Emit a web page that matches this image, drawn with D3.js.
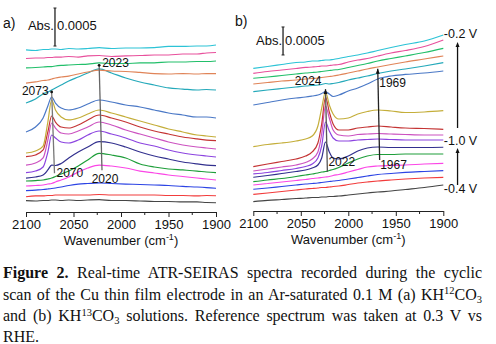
<!DOCTYPE html>
<html>
<head>
<meta charset="utf-8">
<script src="https://cdn.jsdelivr.net/npm/d3@7"></script>
<style>
  body { margin: 0; background: #fff; }
  svg text { font-family: Arial, "Liberation Sans", sans-serif; fill: #111; }
  .caption text { font-family: "Liberation Serif", "DejaVu Serif", serif; }
</style>
</head>
<body>
<svg id="fig" width="496" height="344"></svg>
<script>
// wavenumber grids (cm-1) the traces are sampled on
var wnA = [2100, 2090, 2082, 2077, 2073, 2069, 2063, 2055, 2045, 2035, 2023, 2010, 1995, 1980, 1965, 1950, 1935, 1920, 1910, 1900];
var wnB = [2100, 2085, 2070, 2055, 2045, 2038, 2032, 2028, 2024, 2020, 2016, 2010, 2000, 1990, 1980, 1969, 1955, 1940, 1920, 1900];

// stacked absorbance, units of 1e-4, offsets included, top trace first
var specA = [
  [21.32, 21.25, 21.38, 21.38, 21.45, 21.45, 21.38, 21.51, 21.45, 21.51, 21.64, 21.51, 21.58, 21.58, 21.64, 21.78, 21.78, 21.84, 21.84, 21.97],
  [20.20, 20.26, 20.26, 20.33, 20.33, 20.39, 20.39, 20.46, 20.39, 20.53, 20.59, 20.46, 20.53, 20.59, 20.66, 20.66, 20.79, 20.79, 20.92, 20.99],
  [18.95, 19.01, 19.08, 19.14, 19.14, 19.21, 19.28, 19.34, 19.41, 19.47, 19.61, 19.54, 19.54, 19.61, 19.61, 19.74, 19.74, 19.80, 19.80, 19.87],
  [16.97, 17.11, 17.30, 17.37, 17.50, 17.63, 17.76, 17.89, 18.16, 18.42, 18.68, 18.55, 18.49, 18.36, 18.22, 18.16, 18.22, 18.16, 18.22, 18.22],
  [14.34, 14.87, 15.53, 15.79, 16.05, 16.32, 16.71, 17.24, 17.76, 18.29, 18.82, 18.29, 17.63, 17.11, 16.71, 16.32, 16.18, 16.05, 16.12, 16.05],
  [10.53, 11.18, 12.37, 13.95, 15.13, 14.34, 13.68, 13.42, 13.68, 14.21, 14.74, 14.47, 14.08, 13.82, 13.42, 13.03, 12.76, 12.50, 12.50, 12.37],
  [7.76, 8.03, 8.68, 11.84, 14.74, 13.42, 12.50, 12.11, 12.37, 12.89, 13.42, 13.03, 12.50, 11.97, 11.45, 10.92, 10.53, 10.13, 10.00, 9.87],
  [7.28, 7.50, 8.16, 10.53, 12.63, 11.84, 11.18, 11.05, 11.45, 12.11, 12.76, 12.37, 11.84, 11.18, 10.66, 10.26, 9.87, 9.61, 9.47, 9.38],
  [6.18, 6.45, 7.11, 9.47, 11.71, 11.05, 10.39, 10.26, 10.66, 11.18, 11.84, 11.45, 10.79, 10.26, 9.74, 9.21, 8.82, 8.55, 8.42, 8.29],
  [5.17, 5.39, 5.92, 7.89, 10.13, 9.74, 9.21, 9.08, 9.47, 10.13, 10.66, 10.26, 9.74, 9.08, 8.68, 8.16, 7.76, 7.50, 7.37, 7.24],
  [4.47, 4.61, 4.87, 5.53, 6.18, 6.12, 6.38, 7.11, 7.89, 8.55, 9.25, 9.08, 8.55, 7.89, 7.37, 6.97, 6.58, 6.32, 6.18, 6.09],
  [4.08, 4.14, 4.21, 4.34, 4.47, 4.67, 5.00, 5.39, 6.05, 6.84, 7.72, 7.50, 7.11, 6.32, 5.92, 5.66, 5.53, 5.39, 5.26, 5.17],
  [3.42, 3.49, 3.55, 3.68, 3.75, 3.95, 4.21, 4.61, 5.26, 5.79, 6.18, 6.05, 5.79, 5.39, 5.13, 4.87, 4.67, 4.47, 4.34, 4.21],
  [2.80, 2.89, 2.96, 3.03, 3.09, 3.16, 3.29, 3.49, 3.68, 3.75, 3.82, 3.75, 3.68, 3.62, 3.55, 3.49, 3.36, 3.29, 3.22, 3.12],
  [2.01, 2.11, 2.11, 2.17, 2.17, 2.24, 2.24, 2.24, 2.24, 2.24, 2.30, 2.24, 2.24, 2.24, 2.24, 2.17, 2.17, 2.11, 2.17, 2.14],
  [1.49, 1.45, 1.51, 1.51, 1.58, 1.58, 1.51, 1.58, 1.51, 1.58, 1.64, 1.51, 1.51, 1.45, 1.38, 1.38, 1.32, 1.32, 1.25, 1.22]
];

var specB = [
  [25.48, 25.80, 26.16, 26.52, 26.61, 26.79, 26.79, 26.88, 26.96, 26.96, 27.05, 27.23, 27.59, 27.86, 28.21, 28.66, 29.20, 29.73, 30.36, 31.43],
  [24.59, 24.91, 25.18, 25.45, 25.63, 25.71, 25.80, 25.89, 25.89, 25.98, 26.07, 26.16, 26.61, 26.96, 27.23, 27.68, 28.21, 28.66, 29.38, 30.54],
  [23.70, 23.93, 24.20, 24.46, 24.64, 24.73, 24.82, 24.91, 25.00, 25.09, 25.18, 25.27, 25.63, 25.98, 26.34, 26.79, 27.23, 27.68, 28.30, 29.05],
  [22.68, 22.95, 23.21, 23.39, 23.57, 23.66, 23.75, 23.84, 23.93, 24.02, 24.11, 24.29, 24.64, 25.00, 25.36, 25.71, 26.16, 26.61, 27.14, 27.68],
  [21.30, 21.61, 21.88, 22.14, 22.32, 22.41, 22.50, 22.59, 22.77, 22.68, 22.77, 22.95, 23.39, 23.75, 24.11, 24.55, 25.00, 25.36, 25.89, 26.48],
  [18.93, 19.38, 19.82, 20.18, 20.36, 20.54, 20.71, 20.98, 21.34, 20.89, 20.45, 20.71, 21.43, 21.96, 22.68, 23.57, 24.11, 24.38, 24.64, 25.00],
  [11.48, 11.88, 12.14, 12.50, 12.86, 13.39, 15.18, 18.39, 21.25, 18.93, 17.32, 16.43, 16.61, 17.32, 17.77, 18.04, 17.86, 17.59, 17.68, 17.91],
  [7.91, 8.39, 8.84, 9.29, 9.82, 10.54, 12.14, 15.54, 20.36, 17.68, 15.54, 14.46, 14.46, 14.82, 15.00, 15.18, 15.00, 14.82, 14.73, 14.59],
  [7.14, 7.50, 7.86, 8.21, 8.66, 9.29, 10.54, 13.75, 18.75, 16.61, 14.46, 13.57, 13.39, 13.66, 13.75, 13.84, 13.75, 13.66, 13.57, 13.57],
  [6.61, 6.88, 7.23, 7.59, 7.95, 8.39, 9.46, 11.61, 15.89, 14.29, 13.04, 12.50, 12.50, 12.68, 12.77, 12.86, 12.77, 12.68, 12.68, 12.68],
  [6.02, 6.34, 6.70, 7.05, 7.32, 7.68, 8.21, 9.46, 12.32, 10.54, 9.46, 9.29, 9.82, 10.71, 11.25, 11.43, 11.34, 11.34, 11.34, 11.38],
  [5.23, 5.54, 5.80, 6.16, 6.43, 6.61, 6.79, 6.96, 7.05, 7.23, 7.41, 7.77, 8.57, 9.29, 9.82, 10.09, 10.09, 10.18, 10.18, 10.18],
  [4.64, 4.91, 5.18, 5.45, 5.63, 5.80, 5.89, 5.98, 6.07, 6.16, 6.34, 6.52, 6.96, 7.41, 7.86, 8.04, 8.13, 8.21, 8.39, 8.52],
  [3.88, 4.11, 4.38, 4.64, 4.82, 4.91, 5.00, 5.09, 5.18, 5.27, 5.36, 5.45, 5.71, 5.98, 6.25, 6.52, 6.70, 6.88, 7.05, 7.20],
  [2.98, 3.21, 3.48, 3.75, 3.93, 4.02, 4.11, 4.20, 4.20, 4.29, 4.38, 4.46, 4.73, 5.00, 5.18, 5.36, 5.54, 5.71, 5.89, 6.02],
  [1.66, 1.88, 2.05, 2.23, 2.32, 2.41, 2.41, 2.50, 2.50, 2.59, 2.59, 2.68, 2.86, 3.04, 3.21, 3.39, 3.57, 3.84, 4.20, 4.64]
];

var traceColors = ["#2cc3d6", "#e8509c", "#22bf6a", "#e08458", "#24a9ba", "#4a78c6",
                   "#c4ae3a", "#c43434", "#cc52c0", "#8c44e0", "#32308e", "#1e9e3a",
                   "#fb46e6", "#2c44e4", "#f23c3c", "#454545"];

var xTicks = [2100, 2050, 2000, 1950, 1900];
var minorTicks = [2075, 2025, 1975, 1925];

// peak guide lines: wavenumber at top / bottom and absorbance they span
var guidesA = [
  {wn0: 2073, wn1: 2070, a0: 15.8, a1: 5.1, top: "2073", bottom: "2070"},
  {wn0: 2023, wn1: 2020, a0: 19.3, a1: 5.5, top: "2023", bottom: "2020"}
];
var guidesB = [
  {wn0: 2024, wn1: 2022, a0: 21.8, a1: 7.0, top: "2024", bottom: "2022"},
  {wn0: 1969, wn1: 1967, a0: 25.4, a1: 9.1, top: "1969", bottom: "1967"}
];

var barLength = 5;          // 0.0005 absorbance
var barA = {wn: 2069.5, base: 21.84};
var barB = {wn: 2068.7, base: 27.86};

// potential sweep arrows on panel b
var sweepWn = 1885;
var sweeps = [{from: 14.82, to: 30.18}, {from: 4.64, to: 11.25}];
var potentials = [{label: "-0.2 V", a: 30.9}, {label: "-1.0 V", a: 11.7}, {label: "-0.4 V", a: 3.2}];

var svg = d3.select("#fig");

function drawPanel(opt) {
  var x = d3.scaleLinear().domain([2100, 1900]).range(opt.xr);
  var y = d3.scaleLinear().domain(opt.yd).range(opt.yr);
  var g = svg.append("g");

  var line = d3.line()
    .x(function(d) { return x(d[0]); })
    .y(function(d) { return y(d[1]); })
    .curve(d3.curveMonotoneX);

  // bottom trace drawn first so the upper ones sit on top
  opt.spec.slice().reverse().forEach(function(s, i) {
    var k = opt.spec.length - 1 - i;
    g.append("path")
      .attr("d", line(opt.wn.map(function(w, j) { return [w, s[j]]; })))
      .attr("fill", "none")
      .attr("stroke", traceColors[k])
      .attr("stroke-width", 1.2);
  });

  var axis = g.append("g")
    .attr("transform", "translate(0," + opt.yr[0] + ")")
    .call(d3.axisBottom(x).tickValues(xTicks).tickFormat(d3.format("d"))
      .tickSize(5).tickSizeOuter(0).tickPadding(3));
  axis.select(".domain").attr("stroke", "#222");
  axis.selectAll(".tick line").attr("stroke", "#222");
  axis.selectAll("text").style("font-size", "13px").attr("fill", "#111");

  g.selectAll(".minor").data(minorTicks).enter().append("line")
    .attr("x1", function(d) { return x(d); }).attr("x2", function(d) { return x(d); })
    .attr("y1", opt.yr[0]).attr("y2", opt.yr[0] + 3)
    .attr("stroke", "#222");

  var title = g.append("text")
    .attr("x", (opt.xr[0] + opt.xr[1]) / 2)
    .attr("y", opt.yr[0] + 33)
    .attr("text-anchor", "middle")
    .style("font-size", "13px");
  title.append("tspan").text("Wavenumber (cm");
  title.append("tspan").attr("dy", -5).style("font-size", "9px").text("-1");
  title.append("tspan").attr("dy", 5).text(")");

  // absorbance scale bar
  var bx = x(opt.bar.wn), b0 = y(opt.bar.base), b1 = y(opt.bar.base + barLength);
  g.append("line").attr("x1", bx).attr("x2", bx).attr("y1", b0).attr("y2", b1)
    .attr("stroke", "#222").attr("stroke-width", 1.3);
  [b0, b1].forEach(function(v) {
    g.append("line").attr("x1", bx - 1.5).attr("x2", bx + 1.5).attr("y1", v).attr("y2", v)
      .attr("stroke", "#222");
  });
  g.append("text").attr("x", bx - 1).attr("y", opt.barTextY).attr("text-anchor", "end")
    .style("font-size", "13px").text("Abs.");
  g.append("text").attr("x", bx + 2).attr("y", opt.barTextY)
    .style("font-size", "13px").text("0." + "0005");

  g.append("text").attr("x", opt.label[0]).attr("y", opt.label[1])
    .style("font-size", "14px").text(opt.name);

  return {g: g, x: x, y: y};
}

var pa = drawPanel({
  xr: [26, 216], yd: [0, 25], yr: [212, 22], wn: wnA, spec: specA,
  bar: barA, barTextY: 30, label: [3, 28], name: "a)"
});
var pb = drawPanel({
  xr: [253.3, 443.3], yd: [0, 35], yr: [211, 15], wn: wnB, spec: specB,
  bar: barB, barTextY: 45, label: [235, 26], name: "b)"
});

function guide(p, d, color) {
  p.g.append("line")
    .attr("x1", p.x(d.wn0)).attr("y1", p.y(d.a0))
    .attr("x2", p.x(d.wn1)).attr("y2", p.y(d.a1))
    .attr("stroke", color).attr("stroke-width", 1.3);
}

function arrowHead(g, cx, cy) {
  g.append("path")
    .attr("d", "M" + (cx - 2) + "," + (cy + 5) + "L" + cx + "," + cy + "L" + (cx + 2) + "," + (cy + 5) + "Z")
    .attr("fill", "#111");
}

// panel a guides
guide(pa, guidesA[0], "#777");
guide(pa, guidesA[1], "#666");
pa.g.append("circle").attr("cx", pa.x(2073)).attr("cy", pa.y(guidesA[0].a0)).attr("r", 1.4).attr("fill", "#111");
pa.g.append("circle").attr("cx", pa.x(2023)).attr("cy", pa.y(guidesA[1].a0)).attr("r", 1.4).attr("fill", "#111");
pa.g.append("text").attr("x", pa.x(2073) - 3).attr("y", pa.y(guidesA[0].a0) + 3)
  .attr("text-anchor", "end").style("font-size", "12px").text(guidesA[0].top);
pa.g.append("text").attr("x", pa.x(2070) + 2).attr("y", pa.y(guidesA[0].a1) + 4)
  .style("font-size", "12px").text(guidesA[0].bottom);
pa.g.append("text").attr("x", pa.x(2023) + 3).attr("y", pa.y(guidesA[1].a0) + 2)
  .style("font-size", "12px").text(guidesA[1].top);
pa.g.append("text").attr("x", pa.x(2020) + 3).attr("y", pa.y(guidesA[1].a1) + 12.5)
  .attr("text-anchor", "middle").style("font-size", "12px").text(guidesA[1].bottom);

// panel b guides
guide(pb, guidesB[0], "#555");
guide(pb, guidesB[1], "#222");
arrowHead(pb.g, pb.x(2024), pb.y(guidesB[0].a0));
arrowHead(pb.g, pb.x(1969), pb.y(guidesB[1].a0));
pb.g.append("text").attr("x", pb.x(2024) - 4).attr("y", pb.y(guidesB[0].a0) - 4)
  .attr("text-anchor", "end").style("font-size", "12px").text(guidesB[0].top);
pb.g.append("text").attr("x", pb.x(2022) + 1).attr("y", pb.y(guidesB[0].a1) - 6)
  .style("font-size", "12px").text(guidesB[0].bottom);
pb.g.append("text").attr("x", pb.x(1969) + 1.5).attr("y", pb.y(guidesB[1].a0) + 18)
  .style("font-size", "12px").text(guidesB[1].top);
pb.g.append("text").attr("x", pb.x(1967) + 0.5).attr("y", pb.y(guidesB[1].a1) + 9)
  .style("font-size", "12px").text(guidesB[1].bottom);

// sweep direction arrows and potentials
sweeps.forEach(function(s) {
  var sx = pb.x(sweepWn);
  pb.g.append("line").attr("x1", sx).attr("x2", sx)
    .attr("y1", pb.y(s.from)).attr("y2", pb.y(s.to) + 3)
    .attr("stroke", "#111").attr("stroke-width", 1.3);
  arrowHead(pb.g, sx, pb.y(s.to));
});
potentials.forEach(function(p) {
  pb.g.append("text").attr("x", pb.x(1900) + 0.5).attr("y", pb.y(p.a))
    .style("font-size", "12.5px").text(p.label);
});

// caption, justified like the journal text block
var capLines = [
  [{t: "Figure 2.", b: true}, {t: " Real-time ATR-SEIRAS spectra recorded during the cyclic"}],
  [{t: "scan of the Cu thin film electrode in an Ar-saturated 0.1 M (a) KH"}, {t: "12", sup: true}, {t: "CO"}, {t: "3", sub: true}],
  [{t: "and (b) KH"}, {t: "13", sup: true}, {t: "CO"}, {t: "3", sub: true}, {t: " solutions. Reference spectrum was taken at 0.3 V vs"}],
  [{t: "RHE."}]
];
var capY = [277.5, 299.5, 321, 342];
var cap = svg.append("g").attr("class", "caption");
capLines.forEach(function(parts, i) {
  var t = cap.append("text").attr("x", 3).attr("y", capY[i]).style("font-size", "16px");
  var shift = 0;
  parts.forEach(function(p) {
    var s = t.append("tspan").text(p.t);
    if (p.b) s.style("font-weight", "bold");
    var target = p.sup ? -5.5 : p.sub ? 3 : 0;
    if (target !== shift) { s.attr("dy", target - shift); shift = target; }
    if (p.sup || p.sub) s.style("font-size", "10.5px");
  });
  if (i < 3) {
    var natural = t.node().getComputedTextLength();
    var spaces = (t.text().match(/ /g) || []).length;
    t.style("word-spacing", ((479 - natural) / spaces) + "px");
  }
});
</script>
</body>
</html>
